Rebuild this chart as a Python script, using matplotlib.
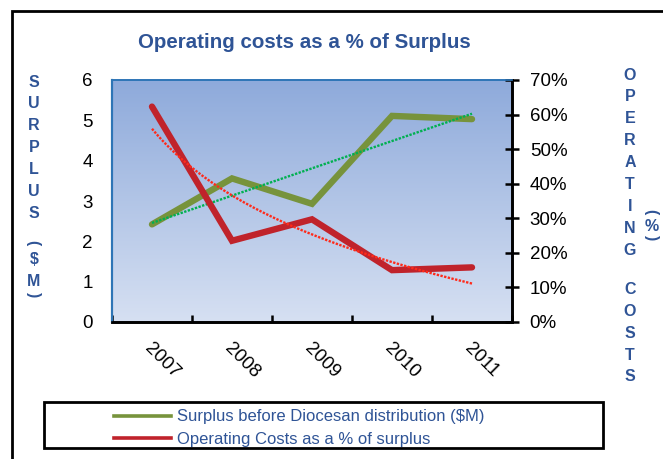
import numpy as np
import matplotlib
matplotlib.use("Agg")
import matplotlib.pyplot as plt
from matplotlib.patches import Rectangle
from matplotlib.lines import Line2D
from matplotlib.colors import LinearSegmentedColormap
import matplotlib.transforms as mtransforms

plt.rcParams['font.family'] = ['Liberation Sans', 'DejaVu Sans']

# ---- data ----
years = ["2007", "2008", "2009", "2010", "2011"]
surplus = [2.42, 3.56, 2.93, 5.11, 5.03]            # $M
op_cost_pct = [62.3, 23.5, 29.7, 15.0, 15.8]        # %
surplus_ticks = [0, 1, 2, 3, 4, 5, 6]
pct_ticks = [0, 10, 20, 30, 40, 50, 60, 70]
title = "Operating costs as a % of Surplus"
label_surplus = "Surplus before Diocesan distribution ($M)"
label_cost = "Operating Costs as a % of surplus"

W, H = 663, 459
fig = plt.figure(figsize=(W / 100, H / 100), dpi=100)

def fx(px):
    return px / W

def fy(py):
    return 1 - py / H

BLUE = '#2F5496'
GREEN = '#77933C'
RED = '#C0232B'
TICK_FS = 13.5
LET_FS = 11.5

ax = fig.add_axes([fx(112), fy(322), fx(512) - fx(112), fy(80) - fy(322)])
ax2 = ax.twinx()

x = np.arange(len(years))

# gradient background
cmap = LinearSegmentedColormap.from_list('bg', ['#D6E0F2', '#8EAADB'])
grad = np.linspace(0, 1, 256).reshape(-1, 1)
ax.imshow(grad, cmap=cmap, aspect='auto', extent=[0, 1, 0, 1],
          transform=ax.transAxes, origin='lower', zorder=0)

# surplus line + linear trend
ax.plot(x, surplus, color=GREEN, lw=4.6, solid_capstyle='round',
        solid_joinstyle='miter', zorder=3)
coef = np.polyfit(x + 1, surplus, 1)
xt = np.linspace(0, 4, 200)
ax.plot(xt, np.polyval(coef, xt + 1), color='#00B050', lw=1.7,
        linestyle=(0, (1, 0.6)), zorder=4)

# operating cost line + logarithmic trend
pct = np.array(op_cost_pct) / 100
ax2.plot(x, pct, color=RED, lw=4.6, solid_capstyle='round',
         solid_joinstyle='miter', zorder=3)
lc = np.polyfit(np.log(x + 1), pct, 1)
ax2.plot(xt, np.polyval(lc, np.log(xt + 1)), color='#FF2A1A', lw=1.7,
         linestyle=(0, (1, 0.6)), zorder=4)

ax.set_xlim(-0.5, 4.5)
ax.set_ylim(0, 6)
ax2.set_ylim(0, 0.7)
ax.set_yticks(surplus_ticks)
ax.set_yticklabels([str(v) for v in surplus_ticks])
ax2.set_yticks([v / 100 for v in pct_ticks])
ax2.set_yticklabels([f"{v}%" for v in pct_ticks])

ax.set_xticks(np.arange(-0.5, 5, 1))
ax.set_xticklabels([])
ax.tick_params(axis='x', direction='in', length=5, width=1.8, color='black')
ax.tick_params(axis='y', length=0, pad=14, labelsize=TICK_FS)
ax2.tick_params(axis='y', direction='inout', length=9.5, width=1.8,
                pad=8, labelsize=TICK_FS)

for a in (ax, ax2):
    a.spines['left'].set_color('#2E75B6')
    a.spines['left'].set_linewidth(1.5)
    a.spines['top'].set_color('#2E75B6')
    a.spines['top'].set_linewidth(1.2)
    a.spines['bottom'].set_color('black')
    a.spines['bottom'].set_linewidth(1.9)
    a.spines['right'].set_color('black')
    a.spines['right'].set_linewidth(1.9)
ax2.patch.set_visible(False)

# rotated year labels
base = mtransforms.blended_transform_factory(ax.transData, ax.transAxes)
tr = mtransforms.offset_copy(base, fig=fig, x=1, y=-18, units='dots')
for i, yl in enumerate(years):
    ax.text(i, 0, yl, transform=tr, rotation=-45, rotation_mode='anchor',
            ha='left', va='top', fontsize=TICK_FS, color='black')

# title
fig.text(fx(304), fy(42), title, ha='center', va='center', fontsize=14.8,
         fontweight='bold', color=BLUE)

# stacked left axis title
left_chars = ["S", "U", "R", "P", "L", "U", "S"]
left_y = [82.7, 104, 126, 148, 170, 191.7, 213]
for c, yy in zip(left_chars, left_y):
    fig.text(fx(34), fy(yy), c, ha='center', va='center', fontsize=LET_FS,
             fontweight='bold', color=BLUE)
fig.text(fx(33), fy(243), "(", ha='center', va='center', fontsize=LET_FS,
         fontweight='bold', color=BLUE, rotation=-90)
fig.text(fx(34), fy(260), "$", ha='center', va='center', fontsize=LET_FS,
         fontweight='bold', color=BLUE)
fig.text(fx(34), fy(281.7), "M", ha='center', va='center', fontsize=LET_FS,
         fontweight='bold', color=BLUE)
fig.text(fx(33), fy(295), ")", ha='center', va='center', fontsize=LET_FS,
         fontweight='bold', color=BLUE, rotation=-90)

# stacked right axis title
right_word1 = "OPERATING"
for k, c in enumerate(right_word1):
    fig.text(fx(630), fy(75 + 21.9 * k), c, ha='center', va='center',
             fontsize=LET_FS, fontweight='bold', color=BLUE)
right_word2 = "COSTS"
for k, c in enumerate(right_word2):
    fig.text(fx(630), fy(290 + 21.7 * k), c, ha='center', va='center',
             fontsize=LET_FS, fontweight='bold', color=BLUE)
fig.text(fx(651), fy(212), "(", ha='center', va='center', fontsize=LET_FS,
         fontweight='bold', color=BLUE, rotation=-90)
fig.text(fx(652), fy(226.7), "%", ha='center', va='center', fontsize=LET_FS,
         fontweight='bold', color=BLUE)
fig.text(fx(651), fy(238), ")", ha='center', va='center', fontsize=LET_FS,
         fontweight='bold', color=BLUE, rotation=-90)

# legend
fig.patches.append(Rectangle((fx(44), fy(448)), fx(603) - fx(44), fy(402) - fy(448),
                             transform=fig.transFigure, fill=False,
                             edgecolor='black', lw=2.0))
handles = [Line2D([0], [0], color=GREEN, lw=2.6),
           Line2D([0], [0], color=RED, lw=2.6)]
leg = fig.legend(handles, [label_surplus, label_cost], loc='upper left',
                 bbox_to_anchor=(fx(106), fy(401)), frameon=False,
                 borderpad=0, handlelength=3.4, handletextpad=0.35,
                 labelspacing=0.45, fontsize=12)
for t in leg.get_texts():
    t.set_color(BLUE)

# outer frame
fig.patches.append(Rectangle((fx(12), -0.2), 1.5, fy(11) + 0.2,
                             transform=fig.transFigure, fill=False,
                             edgecolor='black', lw=2.0))

fig.savefig("out.png", dpi=100, facecolor='white')
